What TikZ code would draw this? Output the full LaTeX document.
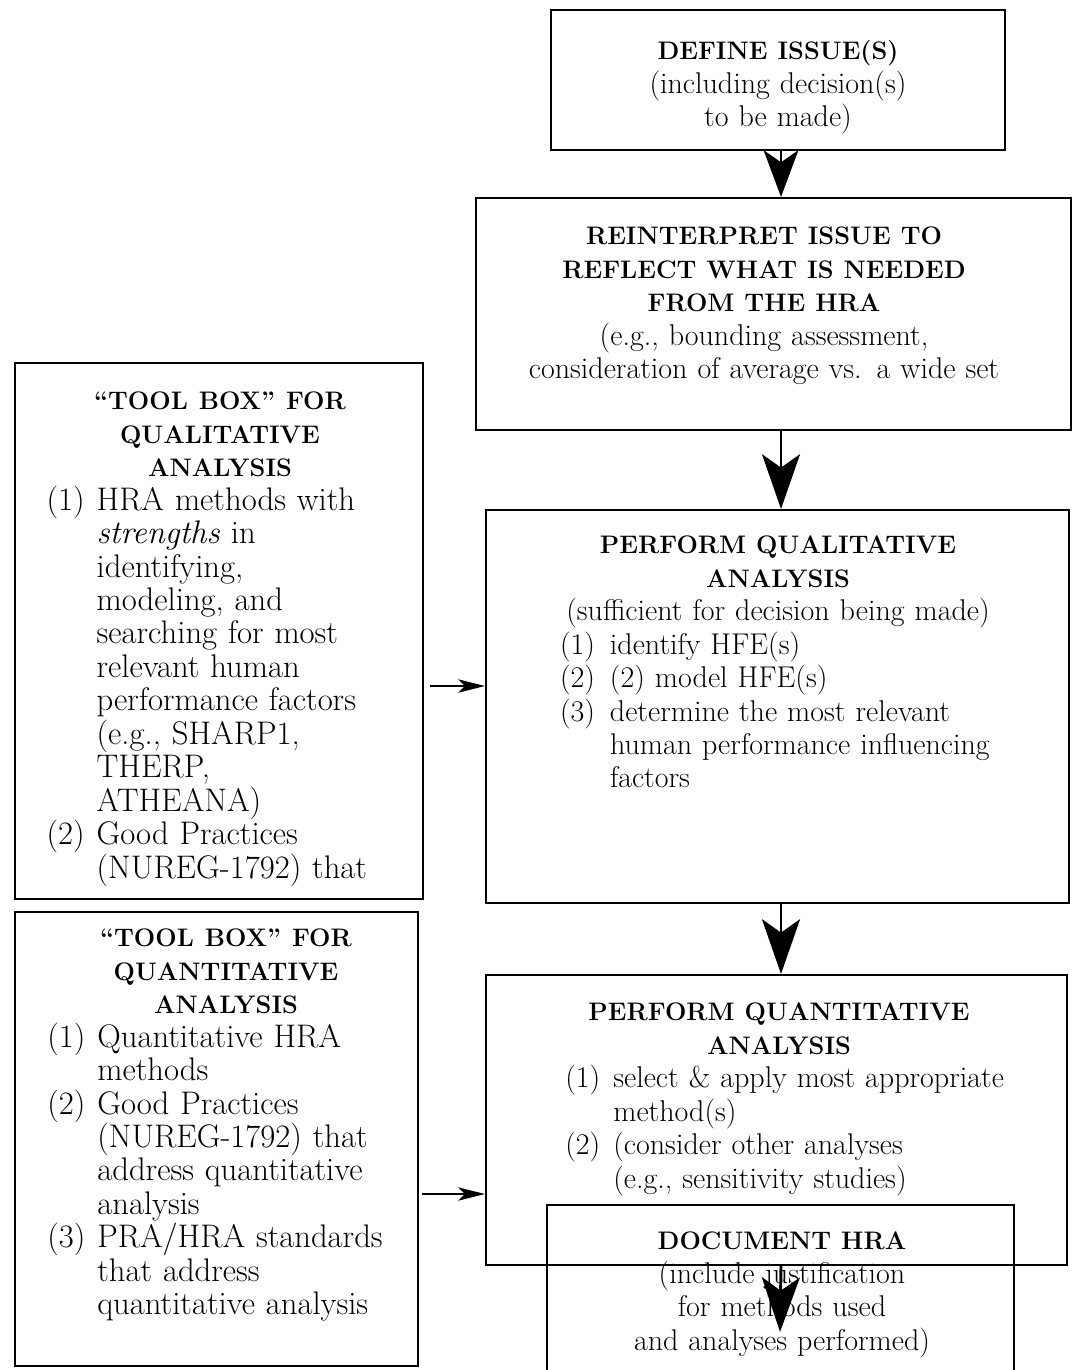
\documentclass[tikz,border=0pt]{standalone}
\usepackage{tikz}
\usetikzlibrary{
  arrows.meta,  % Stealth arrow tips
  positioning,  % relative placement
  fit           % boxes spanned by their corners
}

\newlength{\itmwd}
\setlength{\itmwd}{37.5pt}
\newcommand{\ttl}[1]{{\fontsize{19}{25.1}\selectfont\bfseries\strut #1}}
\newcommand{\itm}[1]{\par\noindent\hangindent=\itmwd\hangafter=1\makebox[\itmwd][l]{#1}}

\tikzset{
  box/.style={
    draw,
    line width=1.6pt,
    inner sep=0pt
  },
  boxtext/.style={
    anchor=north,
    inner sep=0pt,
    font=\fontsize{22.5}{25.1}\selectfont
  },
  sidetext/.style={
    boxtext,
    font=\fontsize{24.5}{25.1}\selectfont
  },
  bigarrow/.style={
    -{Stealth[length=41pt, width=28.5pt, inset=10pt]},
    line width=2.2pt
  },
  sidearrow/.style={
    -{Stealth[length=20pt, width=10pt, inset=5pt]},
    line width=1.2pt
  }
}

\begin{document}
\begin{tikzpicture}[x=0.75pt, y=-0.75pt]
    \clip (0,0) rectangle (1072,1370);

    % main column of steps (right)
    \node[box, fit={(551,10) (1005,150)}] (define) {};
    \node[box, fit={(476,198) (1071,430)}] (reinterpret) {};
    \node[box, fit={(486,510) (1069,903)}] (qualitative) {};
    \node[box, fit={(486,975) (1067,1265)}] (quantitative) {};
    \node[box, fit={(547,1205) (1014,1400)}] (document) {};

    % tool boxes (left)
    \node[box, fit={(15,363) (423,899)}] (toolqual) {};
    \node[box, fit={(15,912) (418,1366)}] (toolquan) {};

    % texts of the steps
    \node[boxtext, text width=330pt] (define-txt) at (778,36)
      {\centering\ttl{DEFINE ISSUE(S)}\\(including decision(s)\\to be made)\par};
    \node[boxtext, text width=400pt] (reinterpret-txt) at (764,221)
      {\centering\ttl{REINTERPRET ISSUE TO\\REFLECT WHAT IS NEEDED\\FROM THE HRA}\\
       (e.g., bounding assessment,\\consideration of average vs. a wide set\par};
    \node[boxtext, text width=380pt] (qualitative-txt) at (778,530)
      {\centering\ttl{PERFORM QUALITATIVE\\ANALYSIS}\\(sufficient for decision being made)\par
       \raggedright\leftskip=26.5pt
       \itm{(1)}identify HFE(s)
       \itm{(2)}(2) model HFE(s)
       \itm{(3)}determine the most relevant\newline human performance influencing\newline factors\par};
    \node[boxtext, text width=400pt] (quantitative-txt) at (779,997)
      {\centering\ttl{PERFORM QUANTITATIVE\\ANALYSIS}\par
       \raggedright\leftskip=39.75pt\setlength{\itmwd}{36pt}
       \itm{(1)}select \& apply most appropriate\newline method(s)
       \itm{(2)}(consider other analyses\newline (e.g., sensitivity studies)\par};
    \node[boxtext, text width=330pt] (document-txt) at (782,1226)
      {\centering\ttl{DOCUMENT HRA}\\(include justification\\for methods used\\and analyses performed)\par};

    % texts of the tool boxes
    \node[sidetext, text width=270pt] (toolqual-txt) at (220,386)
      {\centering\ttl{``TOOL BOX'' FOR\\QUALITATIVE\\ANALYSIS}\par
       \raggedright\leftskip=5pt
       \itm{(1)}HRA methods with\newline \emph{strengths} in\newline identifying,\newline modeling, and\newline searching for most\newline relevant human\newline performance factors\newline (e.g., SHARP1,\newline THERP,\newline ATHEANA)
       \itm{(2)}Good Practices\newline (NUREG-1792) that\par};
    \node[sidetext, text width=280pt] (toolquan-txt) at (226,923)
      {\centering\ttl{``TOOL BOX'' FOR\\QUANTITATIVE\\ANALYSIS}\par
       \raggedright\leftskip=6pt
       \itm{(1)}Quantitative HRA\newline methods
       \itm{(2)}Good Practices\newline (NUREG-1792) that\newline address quantitative\newline analysis
       \itm{(3)}PRA/HRA standards\newline that address\newline quantitative analysis\par};

    % connectors
    \coordinate (spine) at (781,0);
    \coordinate (doctip) at (780,1332);
    \coordinate (qualin) at (0,686);
    \coordinate (quanin) at (0,1194);

    \draw[bigarrow, -{Stealth[length=35pt, width=26pt, inset=9pt]}] (define.south -| spine) -- (reinterpret.north -| spine);
    \draw[bigarrow] (reinterpret.south -| spine) -- (qualitative.north -| spine);
    \draw[bigarrow] (qualitative.south -| spine) -- (quantitative.north -| spine);
    \draw[bigarrow] (quantitative.south -| spine) -- (doctip);

    \draw[sidearrow] (toolqual.east |- qualin) ++(6,0) -- (qualitative.west |- qualin);
    \draw[sidearrow] (toolquan.east |- quanin) ++(3,0) -- (quantitative.west |- quanin);

\end{tikzpicture}
\end{document}
